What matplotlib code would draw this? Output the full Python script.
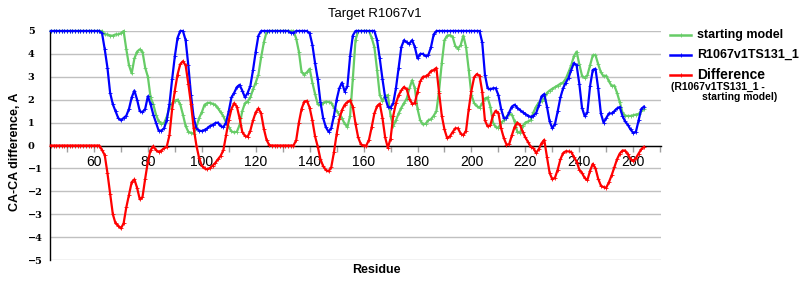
import numpy as np
import matplotlib
matplotlib.use('Agg')
import matplotlib.pyplot as plt
from matplotlib.lines import Line2D

plt.rcParams['font.family'] = ['Liberation Sans', 'DejaVu Sans']

# ---------------- data ----------------
residue_start = 44
residue_end = 264

starting_model = [
    5, 5, 5, 5, 5, 5,                                         # 44-49
    5, 5, 5, 5, 5, 5, 5, 5, 5, 5,                             # 50-59
    5, 5, 5, 5, 4.85, 4.85, 4.8, 4.8, 4.85, 4.85,             # 60-69
    4.9, 5.0, 4.2, 3.5, 3.15, 3.8, 4.1, 4.2, 4.1, 3.4,        # 70-79
    3.0, 2.1, 1.8, 1.35, 1.05, 0.95, 0.98, 1.25, 1.65, 1.85,  # 80-89
    1.95, 2.0, 1.8, 1.35, 0.85, 0.6, 0.55, 0.52, 0.8, 1.2,    # 90-99
    1.45, 1.78, 1.85, 1.87, 1.82, 1.78, 1.62, 1.45, 1.28, 1.0,  # 100-109
    0.8, 0.62, 0.57, 0.6, 0.89, 1.5, 1.85, 1.92, 2.1, 2.45,   # 110-119
    2.75, 3.1, 3.85, 4.5, 4.95, 5, 5, 5, 5, 5,                # 120-129
    5, 5, 5, 5, 5, 4.67, 4.1, 3.2, 3.1, 3.2,                  # 130-139
    3.35, 2.75, 2.25, 1.8, 1.75, 1.85, 1.92, 1.9, 1.87, 1.65,  # 140-149
    1.5, 1.35, 1.18, 0.95, 0.81, 1.3, 2.9, 4.6, 5, 5,         # 150-159
    5, 5, 5, 4.7, 4.3, 3.3, 2.2, 1.95, 2.15, 2.2,             # 160-169
    1.3, 0.85, 1.1, 1.4, 1.65, 1.85, 2.05, 2.5, 2.85, 2.5,    # 170-179
    1.6, 1.1, 0.92, 0.95, 1.1, 1.15, 1.3, 1.5, 2.4, 3.6,      # 180-189
    4.6, 4.8, 4.82, 4.75, 4.35, 4.23, 4.38, 4.8, 4.3, 3.3,    # 190-199
    2.2, 1.85, 1.72, 1.64, 1.85, 2.05, 2.1, 1.7, 1.0, 0.8,    # 200-209
    0.78, 0.98, 1.1, 1.25, 1.38, 1.35, 1.05, 0.6, 0.55, 0.85,  # 210-219
    1.0, 1.05, 1.11, 1.45, 1.7, 1.88, 1.95, 2.05, 2.3, 2.4,   # 220-229
    2.48, 2.55, 2.62, 2.7, 2.75, 2.92, 3.2, 3.5, 3.9, 4.1,    # 230-239
    3.55, 3.05, 2.95, 3.07, 3.5, 3.94, 3.95, 3.55, 3.2, 3.02,  # 240-249
    3.05, 2.8, 2.6, 2.62, 2.3, 1.9, 1.45, 1.3, 1.29, 1.29,    # 250-259
    1.32, 1.35, 1.38, 1.5, 1.6,                               # 260-264
]

r1067v1ts131_1 = [
    5, 5, 5, 5, 5, 5,                                         # 44-49
    5, 5, 5, 5, 5, 5, 5, 5, 5, 5,                             # 50-59
    5, 5, 5, 4.9, 4.2, 3.4, 2.3, 1.8, 1.5, 1.2,               # 60-69
    1.1, 1.2, 1.3, 1.6, 2.1, 2.4, 2.0, 1.5, 1.45, 1.6,        # 70-79
    2.15, 1.8, 1.35, 1.0, 0.65, 0.65, 0.75, 1.1, 1.8, 2.9,    # 80-89
    3.9, 4.7, 5, 5, 4.6, 3.5, 2.2, 1.2, 0.75, 0.65,           # 90-99
    0.63, 0.68, 0.75, 0.85, 0.9, 0.98, 1.0, 0.85, 0.8, 1.0,   # 100-109
    1.5, 2.1, 2.3, 2.55, 2.65, 2.4, 2.1, 2.3, 2.6, 3.3,       # 110-119
    4.1, 4.8, 5, 5, 5, 5, 5, 5, 5, 5,                         # 120-129
    5, 5, 5, 4.93, 4.93, 5, 5, 5, 5, 5,                       # 130-139
    4.9, 4.4, 3.6, 2.9, 1.9, 1.2, 0.8, 0.6, 0.75, 1.3,        # 140-149
    2.0, 2.5, 2.75, 2.35, 2.6, 3.9, 4.8, 5, 5, 5,             # 150-159
    5, 5, 5, 5, 5, 4.6, 3.8, 2.9, 2.1, 1.7,                   # 160-169
    1.65, 1.85, 2.5, 3.4, 4.3, 4.6, 4.5, 4.45, 4.6, 4.3,      # 170-179
    3.8, 4.0, 4.0, 3.9, 3.95, 4.3, 4.85, 5, 5, 5,             # 180-189
    5, 5, 5, 5, 5, 5, 5, 5, 5, 5,                             # 190-199
    5, 5, 5, 5, 4.5, 3.1, 2.5, 2.45, 2.5, 2.5,                # 200-209
    2.2, 1.6, 1.2, 1.2, 1.45, 1.7, 1.78, 1.65, 1.55, 1.45,    # 210-219
    1.38, 1.3, 1.25, 1.3, 1.42, 1.75, 2.15, 2.25, 1.7, 1.05,  # 220-229
    0.75, 0.95, 1.5, 2.1, 2.5, 2.75, 2.95, 3.3, 3.6, 3.5,     # 230-239
    2.7, 1.65, 1.28, 1.45, 2.6, 3.3, 3.35, 2.5, 1.4, 1.0,     # 240-249
    1.2, 1.4, 1.4, 1.5, 1.62, 1.68, 1.3, 1.05, 0.9, 0.7,      # 250-259
    0.55, 0.6, 1.1, 1.6, 1.7,                                 # 260-264
]

difference = [
    0, 0, 0, 0, 0, 0,                                         # 44-49
    0, 0, 0, 0, 0, 0, 0, 0, 0, 0,                             # 50-59
    0, 0, 0, -0.2, -0.42, -1.2, -2.1, -3.0, -3.4, -3.5,       # 60-69
    -3.62, -3.4, -2.7, -2.15, -1.6, -1.48, -1.85, -2.35, -2.25, -1.45,  # 70-79
    -0.7, -0.2, -0.03, -0.2, -0.28, -0.22, -0.12, -0.05, 0.45, 1.6,   # 80-89
    2.4, 3.1, 3.55, 3.68, 3.5, 2.7, 1.8, 0.75, 0.0, -0.55,    # 90-99
    -0.88, -1.0, -1.04, -0.98, -0.88, -0.76, -0.6, -0.45, -0.2, 0.45,  # 100-109
    1.1, 1.6, 1.85, 1.7, 1.2, 0.6, 0.42, 0.38, 0.65, 1.1,     # 110-119
    1.45, 1.62, 1.4, 0.74, 0.25, 0.02, 0, 0, 0, 0,            # 120-129
    0, 0, 0, 0, 0, 0.23, 1.0, 1.6, 1.92, 1.95,                # 130-139
    1.65, 1.1, 0.4, -0.05, -0.6, -0.9, -1.07, -1.13, -0.95, -0.3,  # 140-149
    0.5, 1.15, 1.55, 1.78, 1.9, 1.97, 1.7, 0.95, 0.35, 0.05,  # 150-159
    0, 0, 0.25, 0.8, 1.4, 1.72, 1.83, 1.2, 0.35, -0.1,        # 160-169
    0.3, 1.3, 1.85, 2.2, 2.41, 2.56, 2.45, 2.05, 1.82, 1.85,  # 170-179
    2.35, 2.8, 3.0, 3.02, 3.1, 3.25, 3.3, 3.39, 2.3, 1.3,     # 180-189
    0.7, 0.32, 0.4, 0.58, 0.75, 0.75, 0.52, 0.45, 0.65, 1.6,  # 190-199
    2.4, 2.98, 3.12, 3.05, 2.35, 1.1, 0.83, 0.88, 1.32, 1.52,  # 200-209
    1.42, 0.75, 0.33, 0.04, 0.06, 0.45, 0.81, 1.0, 0.9, 0.6,  # 210-219
    0.35, 0.15, -0.06, -0.12, -0.33, -0.15, 0.1, 0.25, -0.5, -1.2,  # 220-229
    -1.48, -1.4, -1.05, -0.6, -0.33, -0.25, -0.26, -0.28, -0.5, -0.7,  # 230-239
    -1.05, -1.2, -1.42, -1.51, -1.1, -0.8, -1.0, -1.45, -1.75, -1.82,  # 240-249
    -1.84, -1.6, -1.3, -0.95, -0.6, -0.35, -0.22, -0.22, -0.38, -0.6,  # 250-259
    -0.67, -0.55, -0.35, -0.16, -0.06,                        # 260-264
]

series_names = ['starting model', 'R1067v1TS131_1', 'Difference']
series_colors = ['#66cc66', '#0000ff', '#ff0000']
y_ticks = [-5, -4, -3, -2, -1, 0, 1, 2, 3, 4, 5]
x_label_values = [60, 80, 100, 120, 140, 160, 180, 200, 220, 240, 260]

# ---------------- figure ----------------
W, H = 800, 300
fig = plt.figure(figsize=(W / 100, H / 100), dpi=100)
fig.patch.set_facecolor('white')

def fx(px):
    return px / W

def fy(py):
    return 1 - py / H

ax_left, ax_right, ax_top, ax_bottom = 50, 661, 31, 260
ax = fig.add_axes([fx(ax_left), fy(ax_bottom), (ax_right - ax_left) / W,
                   (ax_bottom - ax_top) / H])

residues = np.arange(residue_start, residue_end + 1)
for vals, name, col in zip([starting_model, r1067v1ts131_1, difference],
                           series_names, series_colors):
    ax.plot(residues, vals, color=col, lw=1.6, marker='+', ms=2.5, mew=0.6,
            solid_joinstyle='round', zorder=3, clip_on=False)

ax.set_xlim(43.7, 270.3)
ax.set_ylim(-5, 5)

# y axis
ax.set_yticks(y_ticks)
ax.set_yticklabels([('\u2212' + str(-v)) if v < 0 else str(v) for v in y_ticks],
                   fontfamily='DejaVu Serif', fontweight='bold', fontsize=7,
                   ha='left')
ax.tick_params(axis='y', length=0, pad=16)
ax.grid(axis='y', color='#c0c0c0', lw=1)
ax.set_axisbelow(True)

# x axis
xt = list(range(50, 271, 10))
ax.set_xticks(xt)
ax.set_xticklabels([str(v) if v in x_label_values else '' for v in xt],
                   fontfamily='DejaVu Sans', fontweight='bold', fontsize=8)
ax.tick_params(axis='x', direction='out', length=4, width=1, color='#a0a0a0',
               pad=3)

for s in ['top', 'right']:
    ax.spines[s].set_visible(False)
ax.spines['bottom'].set_position(('data', 0))
ax.spines['bottom'].set_color('black')
ax.spines['bottom'].set_linewidth(1)
ax.spines['left'].set_color('black')
ax.spines['left'].set_linewidth(1)

# titles
fig.text(fx(375), fy(14), 'Target R1067v1', ha='center', va='center',
         fontsize=9.5)
fig.text(fx(376), fy(270), 'Residue', ha='center', va='center',
         fontsize=9, fontweight='bold')
fig.text(fx(15), fy(152), 'CA-CA difference, A', ha='center', va='center',
         rotation=90, fontsize=9, fontweight='bold')

# legend (manual)
leg_y = [35, 55, 75]
leg_sizes = [9, 9, 10]
for yy, name, col, fs in zip(leg_y, series_names, series_colors, leg_sizes):
    fig.add_artist(Line2D([fx(670), fx(691)], [fy(yy), fy(yy)], color=col,
                          lw=1.8, transform=fig.transFigure))
    fig.add_artist(Line2D([fx(680.5)], [fy(yy)], color=col, marker='+', ms=2.5,
                          mew=0.6, transform=fig.transFigure))
    fig.text(fx(697), fy(yy), name, ha='left', va='center', fontsize=fs,
             fontweight='bold')
fig.text(fx(671), fy(87), '(R1067v1TS131_1 -', ha='left', va='center',
         fontsize=7.5, fontweight='bold')
fig.text(fx(777), fy(97), 'starting model)', ha='right', va='center',
         fontsize=7.5, fontweight='bold')

fig.savefig('out.png', dpi=100, facecolor='white')
